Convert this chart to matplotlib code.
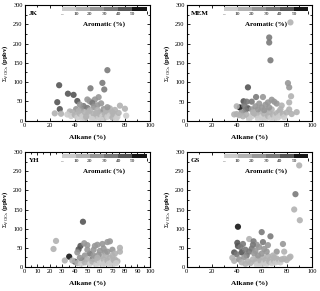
import matplotlib
matplotlib.use("Agg")
import matplotlib.pyplot as plt
from matplotlib.colors import ListedColormap, BoundaryNorm
from matplotlib.ticker import MultipleLocator
import numpy as np

plt.rcParams['font.family'] = ['Liberation Serif', 'DejaVu Serif']
plt.rcParams['mathtext.fontset'] = 'custom'
plt.rcParams['mathtext.rm'] = 'Liberation Serif'
plt.rcParams['mathtext.bf'] = 'Liberation Serif:bold'

# ---------------- data ----------------
jk_alkane = [27.5, 26, 28, 34.5, 39, 42, 52.5, 66, 62, 63.5, 59, 56, 52, 50, 54, 47, 50, 45, 44, 58, 61, 55, 63, 60, 65, 41, 38, 36,
             76, 80, 81, 24, 29, 34, 37, 40, 42, 44, 46, 48, 50, 51, 53, 55, 56, 57, 59, 60, 62, 63, 64, 66, 67, 68, 70, 71, 72, 74, 75,
             65, 68, 58, 52, 48, 43, 46, 54, 61, 73, 70, 66, 57, 49]
jk_voc = [92, 48, 30, 70, 67, 51, 84, 131, 98, 81, 61, 55, 50, 55, 46, 38, 33, 28, 42, 40, 45, 35, 30, 22, 20, 30, 22, 24,
          39, 31, 13, 19, 18, 16, 12, 15, 8, 18, 12, 6, 15, 22, 10, 18, 5, 13, 8, 16, 12, 5, 18, 10, 22, 14, 8, 18, 28, 10, 20,
          28, 32, 28, 27, 22, 25, 5, 4, 3, 5, 22, 35, 20, 10]
jk_arom = [45, 45, 40, 45, 40, 40, 35, 30, 30, 30, 25, 25, 20, 20, 30, 30, 35, 25, 20, 25, 20, 25, 20, 25, 20, 20, 15, 10,
           10, 10, 5, 10, 10, 5, 5, 10, 5, 10, 5, 10, 5, 10, 5, 10, 5, 10, 5, 10, 5, 10, 10, 5, 10, 5, 10, 10, 15, 5, 10,
           15, 15, 15, 15, 15, 15, 5, 5, 5, 5, 15, 20, 15, 10]

mem_alkane = [83, 66, 66, 67, 49, 81, 82, 83.5, 82, 55.5, 61, 45.5, 52, 48, 42.5, 49, 40, 68, 70, 72, 65, 63, 58, 60, 55, 52, 47, 44,
              40, 38, 42, 45, 48, 50, 52, 54, 56, 57, 59, 60, 62, 63, 64, 65, 66, 67, 68, 69, 70, 71, 72, 73, 74, 75, 76, 77, 78,
              80, 82, 84, 88, 62, 57, 53, 46, 66, 75, 50, 61]
mem_voc = [255, 216, 203, 157, 87, 98, 87, 64, 48, 62, 62, 51, 50, 50, 35, 33, 38, 55, 50, 45, 48, 42, 45, 35, 38, 30, 28, 22,
           18, 17, 15, 12, 16, 8, 12, 20, 15, 6, 24, 10, 18, 5, 28, 13, 22, 8, 30, 16, 4, 12, 20, 9, 25, 14, 40, 18, 10,
           22, 30, 18, 23, 28, 30, 22, 40, 35, 30, 4, 3]
mem_arom = [15, 30, 30, 30, 45, 25, 25, 10, 10, 35, 20, 40, 35, 35, 50, 40, 10, 25, 25, 20, 25, 20, 25, 25, 20, 25, 30, 25,
            10, 10, 15, 10, 15, 10, 5, 15, 10, 5, 15, 5, 10, 5, 15, 10, 10, 5, 15, 10, 5, 5, 10, 5, 10, 5, 15, 10, 5,
            10, 10, 10, 10, 20, 20, 15, 30, 20, 15, 5, 5]

yh_alkane = [46.5, 25, 23, 35.5, 40, 32, 44.5, 43, 47.5, 50, 56, 58, 66, 68, 62, 76, 76, 52, 54, 46, 48, 44, 42, 50, 55, 60, 64,
             70, 72, 70, 72, 74, 38, 42, 45, 48, 50, 52, 54, 56, 57, 58, 60, 61, 62, 63, 64, 65, 66, 67, 68, 69, 70, 71, 73,
             59, 55, 66, 63, 58]
yh_voc = [118, 68, 47, 27, 14, 17, 55, 46, 62, 57, 55, 58, 65, 67, 60, 50, 40, 35, 20, 18, 30, 24, 38, 45, 45, 42, 38,
          45, 35, 30, 20, 15, 17, 10, 8, 12, 20, 8, 14, 25, 6, 18, 12, 28, 5, 20, 10, 30, 16, 8, 24, 12, 5, 18, 10,
          32, 30, 40, 48, 24]
yh_arom = [40, 10, 15, 55, 45, 10, 40, 40, 25, 25, 20, 20, 25, 25, 20, 10, 10, 30, 30, 35, 25, 25, 20, 25, 20, 20, 20,
           20, 15, 15, 10, 10, 10, 10, 5, 10, 15, 5, 10, 15, 5, 10, 5, 15, 5, 10, 5, 15, 10, 5, 10, 5, 5, 10, 5,
           20, 20, 20, 25, 15]

gs_alkane = [90, 87, 86, 90.5, 41, 60, 67, 50, 53.5, 40.5, 41, 43, 38, 44, 40, 56, 58, 62, 65, 77, 72, 78, 83, 36.5, 38, 47,
             50, 52, 54, 48, 46, 42, 44, 47, 49, 51, 53, 55, 56, 57, 58, 59, 60, 61, 62, 63, 64, 65, 66, 67, 68, 69, 70, 71,
             72, 73, 74, 75, 76, 78, 80, 82, 57, 60, 64, 55, 45, 61, 53, 70]
gs_voc = [265, 190, 150, 122, 105, 91, 80, 73, 67, 63, 55, 52, 38, 38, 33, 58, 52, 47, 57, 60, 40, 40, 27, 24, 16, 45,
          40, 48, 35, 30, 25, 20, 12, 8, 15, 10, 20, 14, 6, 22, 10, 16, 4, 24, 12, 18, 8, 28, 14, 20, 10, 30, 16, 12,
          22, 14, 18, 12, 20, 22, 18, 24, 30, 35, 40, 42, 60, 65, 58, 25]
gs_arom = [10, 30, 10, 10, 50, 30, 30, 15, 30, 45, 40, 35, 40, 40, 35, 25, 25, 25, 25, 20, 25, 10, 10, 10, 10, 35,
           30, 30, 25, 30, 25, 20, 10, 10, 15, 10, 15, 10, 5, 15, 5, 10, 5, 15, 5, 10, 5, 15, 10, 10, 5, 15, 10, 5,
           10, 5, 10, 5, 10, 10, 10, 10, 20, 20, 25, 25, 35, 30, 30, 15]

panels = [
    ("JK", jk_alkane, jk_voc, jk_arom, 20),
    ("MEM", mem_alkane, mem_voc, mem_arom, 20),
    ("YH", yh_alkane, yh_voc, yh_arom, 10),
    ("GS", gs_alkane, gs_voc, gs_arom, 20),
]

seg_colors = ['#cccccc', '#b2b2b2', '#979797', '#7a7a7a', '#555555', '#151515']
cmap = ListedColormap(seg_colors)
bounds = [0, 10, 20, 30, 40, 50, 60]
norm = BoundaryNorm(bounds, cmap.N)

W, H = 320, 291
fig = plt.figure(figsize=(3.2, 2.91), dpi=100)

rects = [
    (24.7, 5, 150, 120.7),
    (186.7, 5, 311.7, 121),
    (24.7, 152, 150, 267),
    (186.7, 152, 311.7, 267),
]

for (name, xs, ys, cs, xstep), (l, t, r, b) in zip(panels, rects):
    ax = fig.add_axes([l / W, 1 - b / H, (r - l) / W, (b - t) / H])
    ax.scatter(xs, ys, c=cs, cmap=cmap, norm=norm, s=20, linewidths=0, alpha=0.9, zorder=3)
    ax.set_xlim(0, 100)
    ax.set_ylim(0, 300)
    ax.xaxis.set_major_locator(MultipleLocator(xstep))
    ax.xaxis.set_minor_locator(MultipleLocator(xstep / 2 if xstep == 20 else 5))
    ax.yaxis.set_major_locator(MultipleLocator(50))
    ax.yaxis.set_minor_locator(MultipleLocator(25))
    ax.tick_params(which='both', direction='in', top=True, right=True, labelsize=4.6, pad=1.5, width=0.6)
    ax.tick_params(which='major', length=2.2)
    ax.tick_params(which='minor', length=1.2)
    for sp in ax.spines.values():
        sp.set_linewidth(0.8)
    ax.set_xlabel("Alkane (%)", fontsize=5.3, fontweight='bold', labelpad=4.5)
    ax.set_ylabel(r"$\Sigma_{\mathrm{VOCs}}$ (ppbv)", fontsize=4.8, fontweight='bold', labelpad=2)
    ax.text(0.035, 0.93, name, transform=ax.transAxes, fontsize=5, fontweight='bold', va='center', ha='left')

    cax = ax.inset_axes([0.295, 0.948, 0.678, 0.034])
    sm = plt.cm.ScalarMappable(cmap=cmap, norm=norm)
    cb = fig.colorbar(sm, cax=cax, orientation='horizontal', ticks=[0, 10, 20, 30, 40, 50])
    cb.outline.set_visible(False)
    cb.ax.set_xticklabels(['–', '10', '20', '30', '40', '50'])
    cb.ax.tick_params(labelsize=3.9, length=0, pad=1)
    ax.text(0.635, 0.835, "Aromatic (%)", transform=ax.transAxes, fontsize=5, fontweight='bold',
            ha='center', va='center')

fig.savefig("out.png", dpi=100)
